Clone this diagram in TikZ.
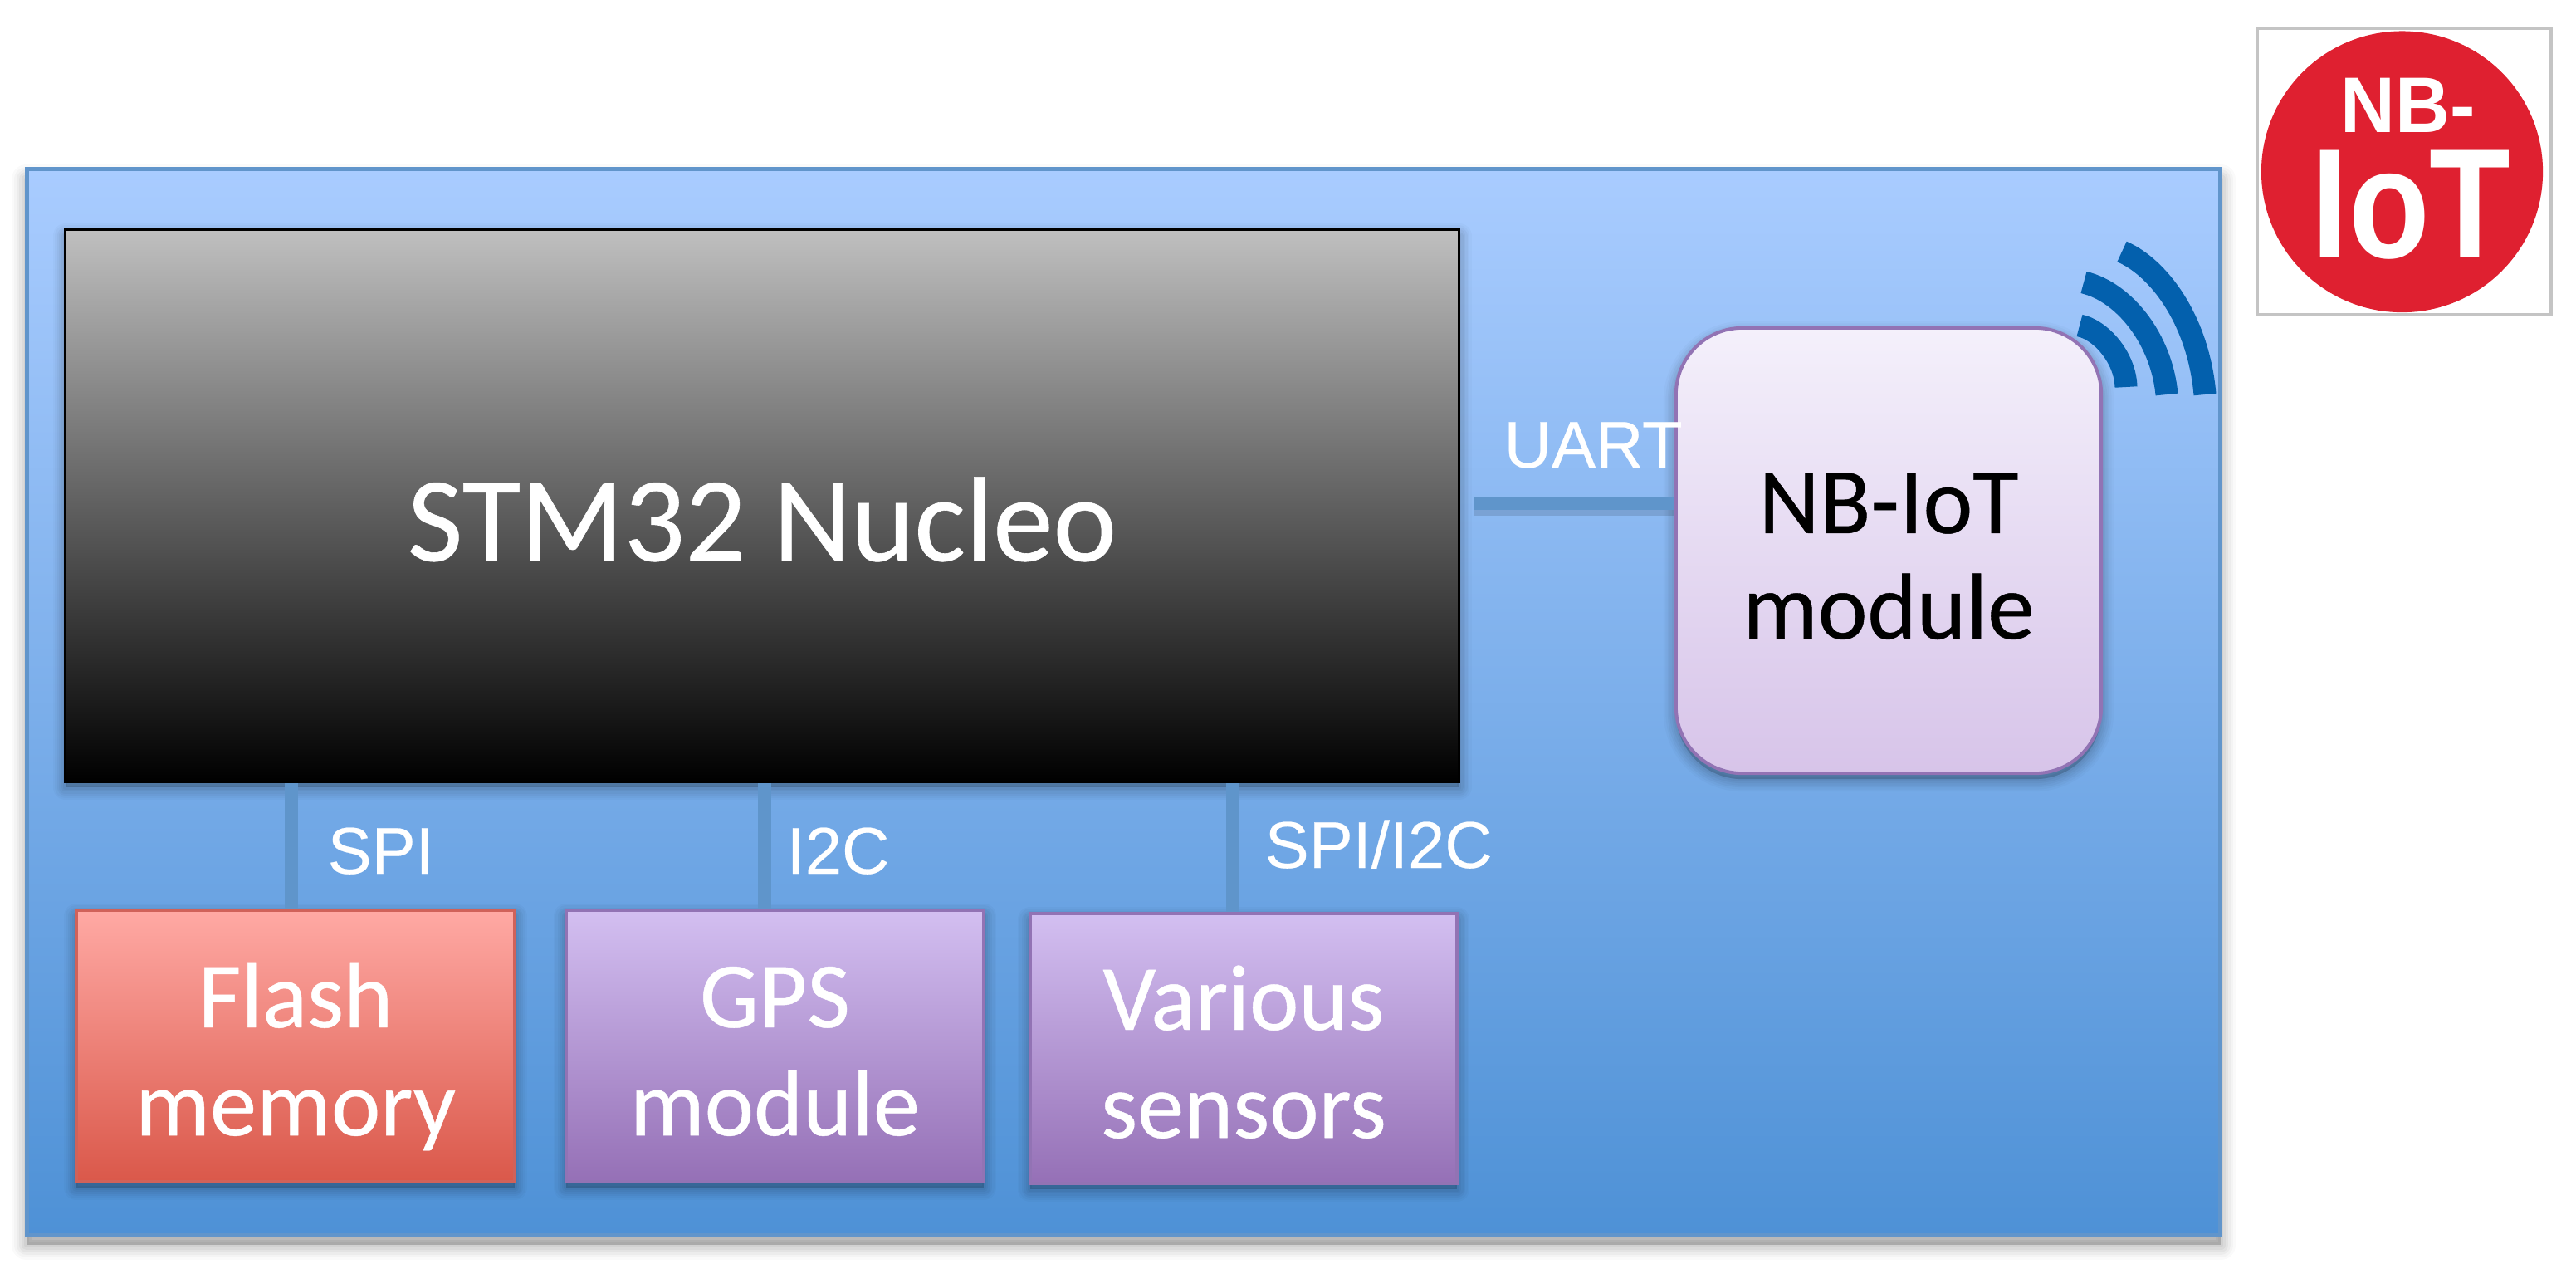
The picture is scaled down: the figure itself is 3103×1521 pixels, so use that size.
\documentclass[tikz,border=0pt]{standalone}
\usepackage{fontspec}
\setmainfont{Carlito}[FakeBold=0.4]
\newfontfamily\arialf{Liberation Sans}[FakeBold=0.3]
\newfontfamily\logof{Liberation Sans Bold}
\usetikzlibrary{calc,shapes.geometric}
\definecolor{bgtop}{HTML}{A9CCFF}
\definecolor{bgbot}{HTML}{4E91D6}
\definecolor{bgedge}{HTML}{6195CB}
\definecolor{redtop}{HTML}{FFA9A4}
\definecolor{redbot}{HTML}{DA584A}
\definecolor{rededge}{HTML}{D0625A}
\definecolor{purtop}{HTML}{D3BFF1}
\definecolor{purbot}{HTML}{9570B6}
\definecolor{puredge}{HTML}{9273B4}
\definecolor{nbtop}{HTML}{F4F0FB}
\definecolor{nbbot}{HTML}{D7C4E9}
\definecolor{linkc}{HTML}{5F95CB}
\definecolor{wavec}{HTML}{0360AD}
\definecolor{logored}{HTML}{DF2030}
\definecolor{logoedge}{HTML}{C4C4C4}
\newcommand\topline[1]{\rule{0pt}{30pt}#1}
\newcommand\botline[1]{#1\rule[-5.8pt]{0pt}{5.8pt}}
\tikzset{
  shlayer/.style 2 args={preaction={draw=black,fill=black,opacity=#2,line width=#1,line join=round,transform canvas={yshift=-.07cm}}},
  softshadow/.style={shlayer={.30cm}{.02},shlayer={.25cm}{.025},shlayer={.20cm}{.03},shlayer={.15cm}{.03},shlayer={.10cm}{.035},shlayer={.05cm}{.035}},
  plshadow/.style 2 args={preaction={draw=black,fill=black,opacity=#2,line width=#1,line join=round,transform canvas={yshift=-.12cm}}},
  panelshadow/.style={plshadow={.36cm}{.02},plshadow={.30cm}{.025},plshadow={.24cm}{.03},plshadow={.18cm}{.035},plshadow={.12cm}{.04},plshadow={.06cm}{.04}},
  panel/.style={draw=bgedge,line width=.05cm,top color=bgtop,bottom color=bgbot,panelshadow,inner sep=0pt,minimum width=26.41cm,minimum height=12.83cm},
  board/.style={draw=black,line width=.03cm,top color=black!25,bottom color=black,softshadow,text=white,inner sep=0pt,font=\fontsize{41.3pt}{44pt}\selectfont,minimum width=16.78cm,minimum height=6.64cm},
  chipbox/.style={line width=.04cm,softshadow,text=white,inner sep=0pt,align=center,font=\fontsize{32pt}{37pt}\selectfont},
  redbox/.style={chipbox,draw=rededge,top color=redtop,bottom color=redbot},
  purbox/.style={chipbox,draw=puredge,top color=purtop,bottom color=purbot},
  nbbox/.style={draw=puredge,line width=.04cm,rounded corners=.8cm,top color=nbtop,bottom color=nbbot,softshadow,text=black,inner sep=0pt,align=center,font=\fontsize{32.2pt}{36.2pt}\selectfont,minimum width=5.12cm,minimum height=5.36cm},
  busname/.style={anchor=base west,text=white,inner sep=0pt,font=\arialf\fontsize{22.6pt}{24pt}\selectfont},
  link/.style={draw=linkc,line width=.16cm},
  ulink/.style={draw=linkc,line width=.15cm,preaction={draw=black,opacity=.12,line width=.15cm,transform canvas={yshift=-.07cm}}},
  wave/.style={draw=wavec,line width=.27cm},
  logotxt/.style={text=white,inner sep=0pt}
}
\begin{document}
\begin{tikzpicture}[x=.01cm,y=-.01cm]
\useasboundingbox (0,0) rectangle (3103,1521);
\fill[white] (0,0) rectangle (3103,1521);
% main panel
\node[panel] (panel) at (1353.5,845.5) {};
% MCU board
\node[board] (stm) at (918,609) {\rule{0pt}{38pt}STM32 Nucleo};
% peripherals
\node[redbox,minimum width=5.28cm,minimum height=3.27cm] (flash) at (356,1259.5) {\topline{Flash}\\\botline{memory}};
\node[purbox,minimum width=5.03cm,minimum height=3.27cm] (gps) at (933.5,1259.5) {\topline{GPS}\\\botline{module}};
\node[purbox,minimum width=5.14cm,minimum height=3.25cm] (sensors) at (1498,1262.5) {\topline{Various}\\\botline{sensors}};
\node[nbbox] (nb) at (2275,663) {\topline{NB-IoT}\\\botline{module}};
% connectors
\draw[link] ([xshift=-.05cm]flash.north) -- ([xshift=-.05cm]flash.north |- stm.south);
\draw[link] ([xshift=-.125cm]gps.north) -- ([xshift=-.125cm]gps.north |- stm.south);
\draw[link] ([xshift=-.13cm]sensors.north) -- ([xshift=-.13cm]sensors.north |- stm.south);
\coordinate (ustart) at (1775,606);
\draw[ulink] (ustart) -- (ustart -| nb.west);
% bus labels
\node[busname] (lspi) at (394,1052) {SPI};
\node[busname] (li2c) at (947,1052) {I2C};
\node[busname] (lspii2c) at (1523,1045) {SPI/I2C};
\node[busname] (luart) at (1811,563) {UART};
% radio waves
\coordinate (w1a) at (2556,303); \coordinate (w1b) at (2656,475);
\coordinate (w2a) at (2510,340); \coordinate (w2b) at (2610,475);
\coordinate (w3a) at (2505,392); \coordinate (w3b) at (2561,466);
\draw[wave] (w1a) .. controls (2600,322) and (2648,385) .. (w1b);
\draw[wave] (w2a) .. controls (2560,352) and (2604,410) .. (w2b);
\draw[wave] (w3a) .. controls (2530,397) and (2560,430) .. (w3b);
% logo
\node[draw=logoedge,line width=.04cm,fill=white,minimum width=3.54cm,minimum height=3.45cm,inner sep=0pt] (logo) at (2896,206.5) {};
\node[ellipse,fill=logored,minimum width=3.39cm,minimum height=3.385cm,inner sep=0pt] (logodisc) at (2893.5,206.8) {};
\node[logotxt,anchor=base west,xscale=.96,font=\logof\fontsize{27pt}{30pt}\selectfont] (lognb) at (2819,159) {NB-};
\node[logotxt,anchor=base west,xscale=.85,font=\logof\fontsize{53.5pt}{56pt}\selectfont] (logiot) at (2784,310) {IoT};
\end{tikzpicture}
\end{document}
